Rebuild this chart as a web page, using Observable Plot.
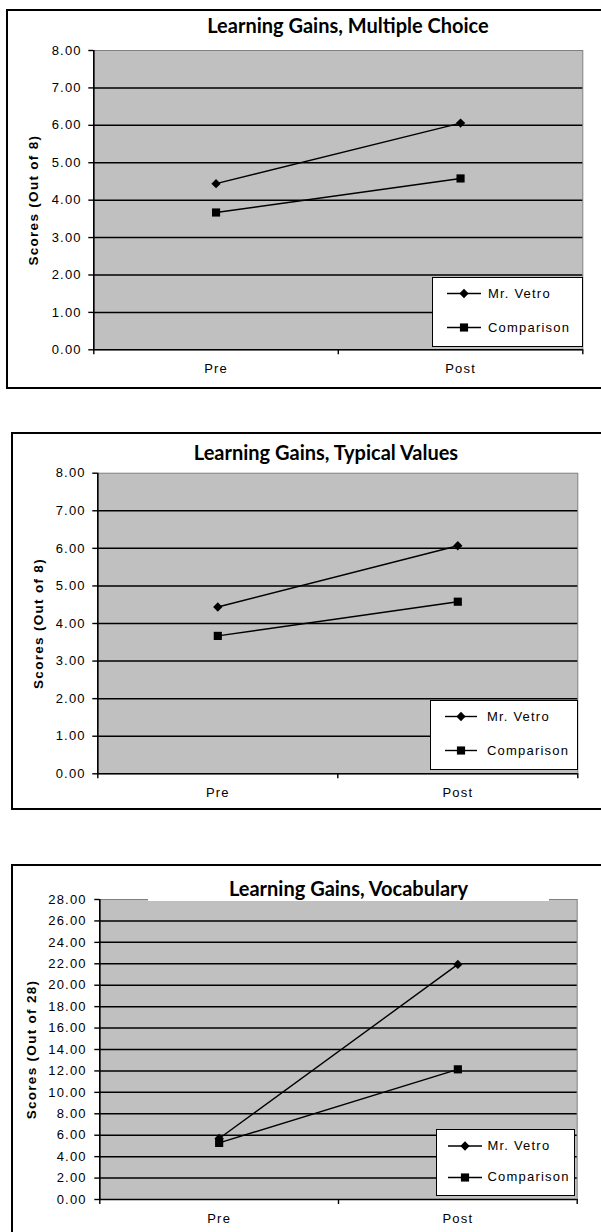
<!DOCTYPE html>
<html>
<head>
<meta charset="utf-8">
<script src="https://cdn.jsdelivr.net/npm/d3@7"></script>
<script src="https://cdn.jsdelivr.net/npm/@observablehq/plot@0.6"></script>
<style>
  html, body { margin: 0; padding: 0; background: #fff; }
  body { position: relative; width: 601px; height: 1232px; overflow: hidden; }
  .box { position: absolute; border: 2px solid #000; box-sizing: border-box; }
  .title { position: absolute; font-family: Lato, "Open Sans", sans-serif; font-weight: bold; font-size: 20px;
           color: #000; white-space: nowrap; display: flex; align-items: center; justify-content: center; }
  .plotwrap { position: absolute; left: 0; }
  .plotwrap svg text { font-family: "Liberation Sans", Arial, sans-serif; }
  .plotwrap g[font-weight="bold"] { letter-spacing: 1.3px; }
  .legend { position: absolute; background: #fff; border: 1.5px solid #000; box-sizing: border-box; }
  .legend span { position: absolute; font-family: "Liberation Sans", Arial, sans-serif; font-size: 13px;
                 letter-spacing: 1.2px; white-space: nowrap; line-height: 16px; color: #000; }
</style>
</head>
<body>
<script>
// ---- data ----
const categories = ["Pre", "Post"];
const seriesNames = ["Mr. Vetro", "Comparison"];
const titles = ["Learning Gains, Multiple Choice", "Learning Gains, Typical Values", "Learning Gains, Vocabulary"];
const yLabels = ["Scores (Out of 8)", "Scores (Out of 8)", "Scores (Out of 28)"];

const mcVetro = [4.44, 6.06];
const mcComparison = [3.67, 4.58];
const tvVetro = [4.44, 6.07];
const tvComparison = [3.67, 4.58];
const vocabVetro = [5.69, 21.94];
const vocabComparison = [5.28, 12.15];

const ticks8 = [0, 1, 2, 3, 4, 5, 6, 7, 8];
const ticks28 = [0, 2, 4, 6, 8, 10, 12, 14, 16, 18, 20, 22, 24, 26, 28];

// ---- layout (page coordinates) ----
const charts = [
  { top: 0, height: 395, ml: 93.3, mr: 18.7, mt: 50, mb: 45.7, yPad: 7, xPad: 14, ylDx: -60,
    title: titles[0], ylabel: yLabels[0], ticks: ticks8, vetro: mcVetro, comp: mcComparison,
    box: { left: 6, top: 9, width: 600, height: 380 },
    titleBox: { left: 148, top: 13, width: 400, height: 24, bg: "transparent" },
    legend: { left: 431.5, top: 276.5, width: 151.5, height: 70, rows: [17.5, 51.5], l: 16, r: 50, t: 57 } },
  { top: 400, height: 415, ml: 97.3, mr: 23.7, mt: 72.7, mb: 41.7, yPad: 7, xPad: 14, ylDx: -59,
    title: titles[1], ylabel: yLabels[1], ticks: ticks8, vetro: tvVetro, comp: tvComparison,
    box: { left: 11, top: 432, width: 700, height: 377.5 },
    titleBox: { left: 126, top: 440, width: 400, height: 24, bg: "transparent" },
    legend: { left: 429.5, top: 699.5, width: 148, height: 70.5, rows: [17.5, 51.5], l: 16, r: 48, t: 58 } },
  { top: 840, height: 392, ml: 99.3, mr: 24.3, mt: 59, mb: 33, yPad: 8, xPad: 14, ylDx: -68,
    title: titles[2], ylabel: yLabels[2], ticks: ticks28, vetro: vocabVetro, comp: vocabComparison,
    box: { left: 11, top: 864, width: 700, height: 500 },
    titleBox: { left: 148, top: 876, width: 401, height: 24.5, bg: "#fff" },
    legend: { left: 436, top: 1129, width: 139, height: 67, rows: [17, 48.5], l: 12, r: 46, t: 52 } }
];

function el(tag, cls, css) {
  const e = document.createElement(tag);
  if (cls) e.className = cls;
  Object.assign(e.style, css || {});
  return e;
}

charts.forEach((c) => {
  // outer chart box
  document.body.appendChild(el("div", "box", {
    left: c.box.left + "px", top: c.box.top + "px", width: c.box.width + "px", height: c.box.height + "px"
  }));

  const data = [];
  seriesNames.forEach((s, si) => {
    const vals = si === 0 ? c.vetro : c.comp;
    categories.forEach((cat, i) => data.push({ series: s, cat, xi: i + 0.5, value: vals[i] }));
  });
  const ymax = c.ticks[c.ticks.length - 1];

  const svg = Plot.plot({
    width: 601,
    height: c.height,
    marginLeft: c.ml, marginRight: c.mr, marginTop: c.mt, marginBottom: c.mb,
    style: { background: "none", color: "#000", fontFamily: "'Liberation Sans', Arial, sans-serif",
             fontSize: "13px", letterSpacing: "1.2px", overflow: "visible" },
    x: { domain: [0, categories.length], axis: null },
    y: { domain: [0, ymax], axis: null },
    marks: [
      Plot.frame({ fill: "#C0C0C0", stroke: "#808080", strokeWidth: 1 }),
      Plot.ruleY(c.ticks.filter(t => t < ymax), { stroke: "#000", strokeWidth: 1.5 }),
      Plot.ruleX([0], { stroke: "#000", strokeWidth: 1.6 }),
      Plot.axisY({ ticks: c.ticks, tickFormat: d => d.toFixed(2), tickSize: 5, tickPadding: c.yPad,
                   label: null, strokeWidth: 1.4, fill: "#000", fontSize: 13 }),
      Plot.axisX({ ticks: d3.range(categories.length + 1), tickFormat: () => "", tickSize: 5,
                   label: null, strokeWidth: 1.4 }),
      Plot.axisX({ ticks: categories.map((_, i) => i + 0.5), tickFormat: v => categories[Math.floor(v)],
                   tickSize: 0, tickPadding: c.xPad, label: null, fill: "#000", fontSize: 13 }),
      Plot.line(data, { x: "xi", y: "value", z: "series", stroke: "#000", strokeWidth: 1.4 }),
      Plot.dot(data.filter(d => d.series === seriesNames[0]), { x: "xi", y: "value", symbol: "diamond2", r: 4.2, fill: "#000", stroke: "none" }),
      Plot.dot(data.filter(d => d.series === seriesNames[1]), { x: "xi", y: "value", symbol: "square", r: 4.6, fill: "#000", stroke: "none" }),
      Plot.text([c.ylabel], { frameAnchor: "left", dx: c.ylDx, rotate: -90, textAnchor: "middle",
                              fontWeight: "bold", fontSize: 13.5, fill: "#000" })
    ]
  });
  const wrap = el("div", "plotwrap", { top: c.top + "px" });
  wrap.appendChild(svg);
  document.body.appendChild(wrap);

  // title
  const t = el("div", "title", {
    left: c.titleBox.left + "px", top: c.titleBox.top + "px", width: c.titleBox.width + "px",
    height: c.titleBox.height + "px", background: c.titleBox.bg
  });
  t.textContent = c.title;
  document.body.appendChild(t);

  // legend
  const L = c.legend;
  const lg = el("div", "legend", { left: L.left + "px", top: L.top + "px", width: L.width + "px", height: L.height + "px" });
  const ns = "http://www.w3.org/2000/svg";
  const ls = document.createElementNS(ns, "svg");
  ls.setAttribute("width", L.width);
  ls.setAttribute("height", L.height);
  ls.style.position = "absolute";
  ls.style.left = "-1.5px";
  ls.style.top = "-1.5px";
  const syms = [d3.symbolDiamond2, d3.symbolSquare];
  const sizes = [4.2, 4.6];
  seriesNames.forEach((s, i) => {
    const y = L.rows[i];
    const line = document.createElementNS(ns, "line");
    line.setAttribute("x1", L.l); line.setAttribute("x2", L.r);
    line.setAttribute("y1", y); line.setAttribute("y2", y);
    line.setAttribute("stroke", "#000"); line.setAttribute("stroke-width", 1.4);
    ls.appendChild(line);
    const p = document.createElementNS(ns, "path");
    p.setAttribute("d", d3.symbol(syms[i], sizes[i] * sizes[i] * Math.PI)());
    p.setAttribute("transform", `translate(${(L.l + L.r) / 2},${y})`);
    p.setAttribute("fill", "#000");
    ls.appendChild(p);
    const sp = el("span", null, { left: (L.t - 1.5) + "px", top: (y - 1.5 - 8) + "px" });
    sp.textContent = s;
    lg.appendChild(sp);
  });
  lg.appendChild(ls);
  document.body.appendChild(lg);
});
</script>
</body>
</html>
